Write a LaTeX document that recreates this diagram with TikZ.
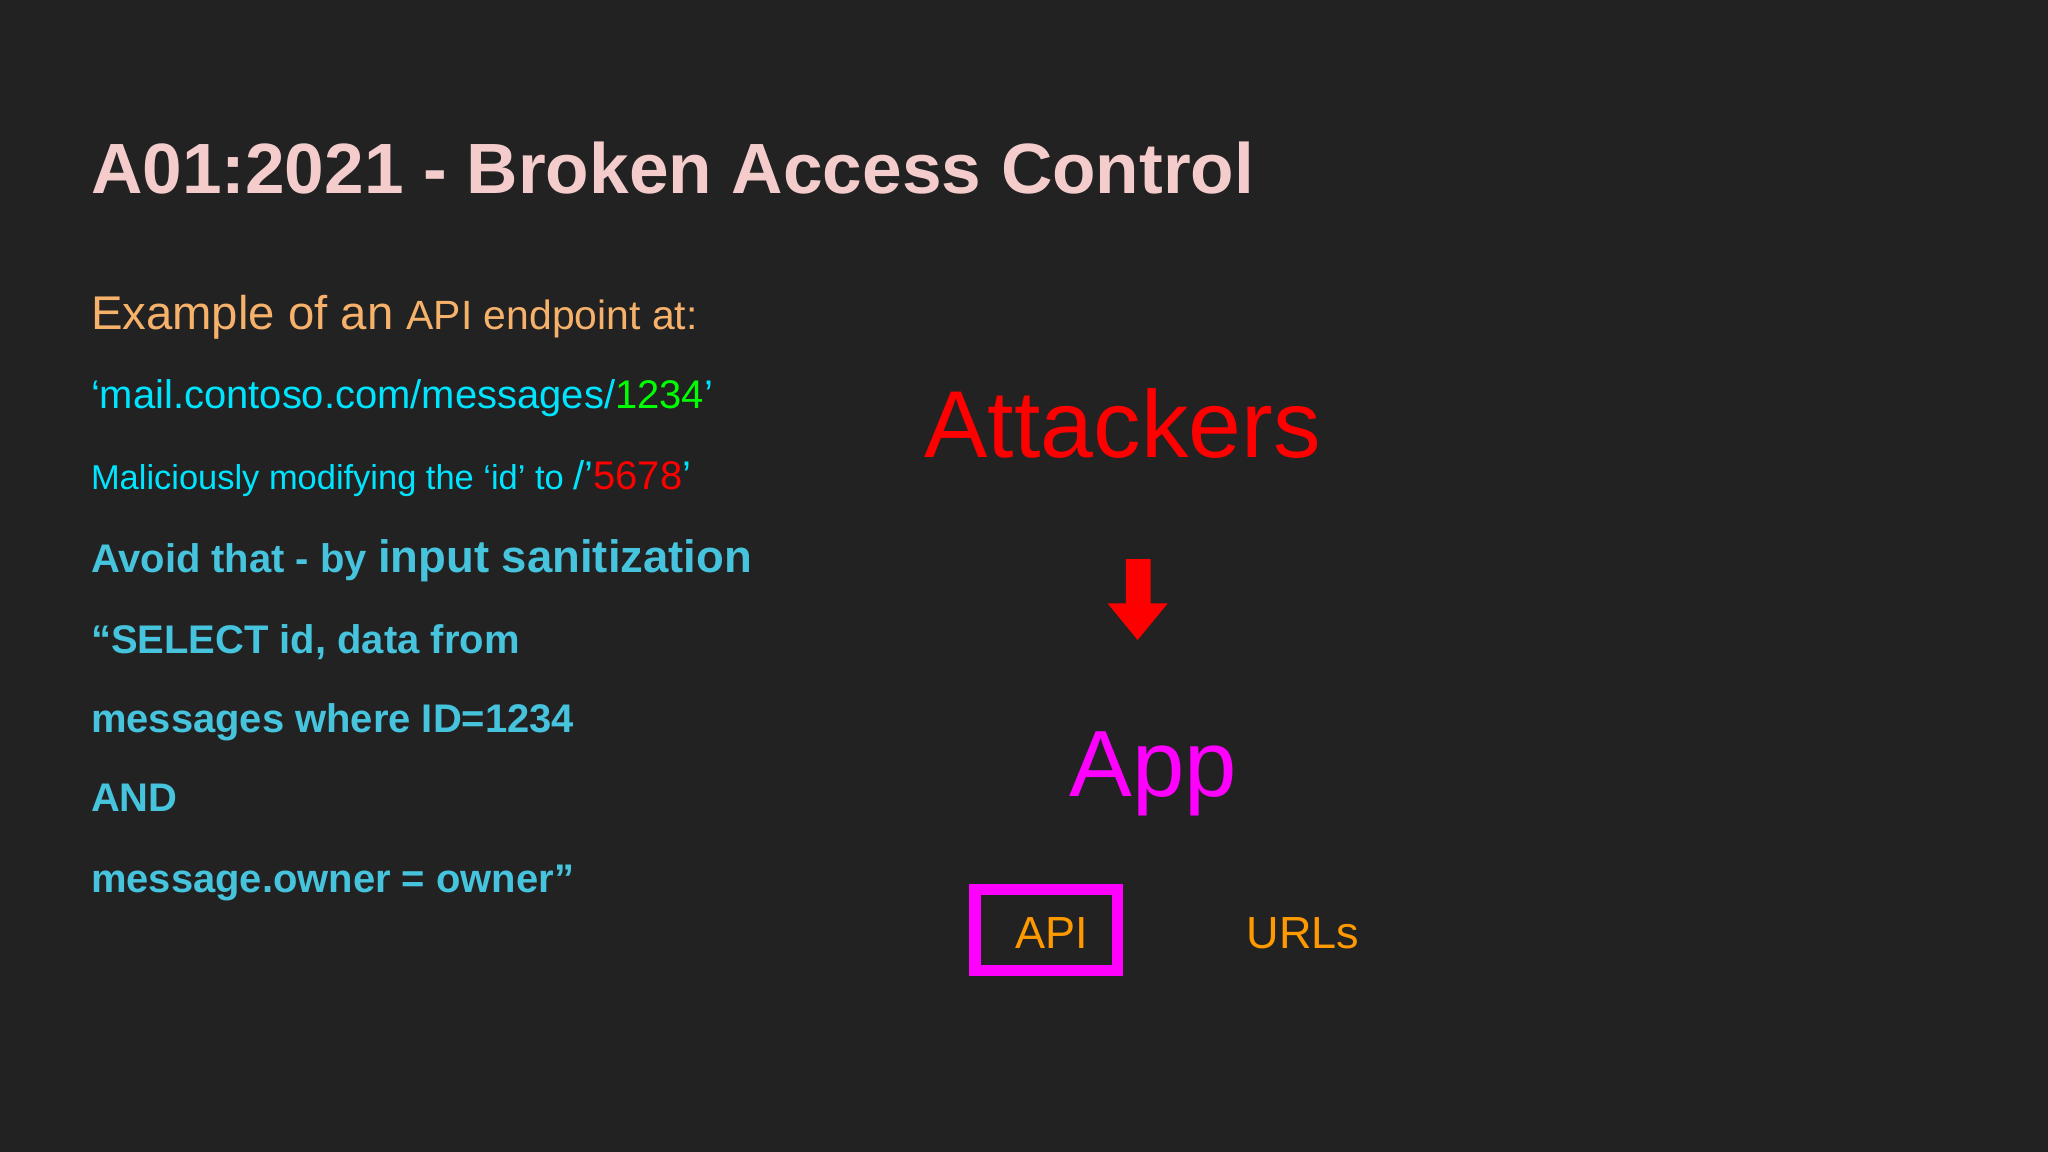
\documentclass[tikz,border=0pt]{standalone}
\usepackage{fontspec}
\setmainfont{Liberation Sans}
\definecolor{bg}{HTML}{222222}
\definecolor{titlec}{HTML}{F4CCCC}
\definecolor{orng}{HTML}{F6B26B}
\definecolor{cyn}{HTML}{00E5FF}
\definecolor{grn}{HTML}{00FF00}
\definecolor{bcyan}{HTML}{46C4DD}
\definecolor{urlc}{HTML}{FF9900}
\definecolor{mag}{HTML}{FF00FF}
\definecolor{rd}{HTML}{FF0000}
\begin{document}
\begin{tikzpicture}[x=0.01cm,y=-0.01cm,
  txt/.style={anchor=base west,inner sep=0pt}]
\fill[bg] (0,0) rectangle (1568,882);
\useasboundingbox (0,0) rectangle (1568,882);
\node[txt,text=titlec,font=\fontsize{15.5}{18}\selectfont\bfseries] (title) at (69,148) {A01:2021 - Broken Access Control};
\node[txt,text=orng,font=\fontsize{10.3}{12}\selectfont] (ex) at (69,252) {Example of an {\fontsize{8.9}{11}\selectfont API endpoint at:}};
\node[txt,text=cyn,font=\fontsize{8.7}{11}\selectfont] (mail) at (69,313) {‘mail.contoso.com/messages/\textcolor{grn}{1234}’};
\node[txt,text=cyn,font=\fontsize{7.5}{10}\selectfont] (mal) at (69,375) {Maliciously modifying the ‘id’ to {\fontsize{8.7}{11}\selectfont /’\textcolor{rd}{5678}’}};
\node[txt,text=bcyan,font=\fontsize{8.7}{11}\selectfont\bfseries] (avoid) at (69,438) {Avoid that - by {\fontsize{9.9}{12}\selectfont input sanitization}};
\node[txt,text=bcyan,font=\fontsize{8.7}{11}\selectfont\bfseries] (l1) at (69,500) {“SELECT id, data from};
\node[txt,text=bcyan,font=\fontsize{8.7}{11}\selectfont\bfseries] (l2) at (69,561) {messages where ID=1234};
\node[txt,text=bcyan,font=\fontsize{8.7}{11}\selectfont\bfseries] (l3) at (69,621) {AND};
\node[txt,text=bcyan,font=\fontsize{8.7}{11}\selectfont\bfseries] (l4) at (69,683) {message.owner = owner”};
\node[txt,text=rd,font=\fontsize{20.7}{24}\selectfont] (att) at (707,350) {Attackers};
\node[txt,text=mag,font=\fontsize{20.5}{24}\selectfont] (app) at (818,610) {App};
\fill[rd] (862,428) -- (881,428) -- (881,462) -- (894,462) -- (871,490) -- (848,462) -- (862,462) -- cycle;
\node[draw=mag,line width=0.9mm,minimum width=1.09cm,minimum height=0.62cm,inner sep=0pt] (apibox) at (801,712) {};
\node[txt,text=urlc,font=\fontsize{9.8}{12}\selectfont] (api) at (777,726) {API};
\node[txt,text=urlc,font=\fontsize{9.8}{12}\selectfont] (urls) at (954,726) {URLs};
\end{tikzpicture}
\end{document}
